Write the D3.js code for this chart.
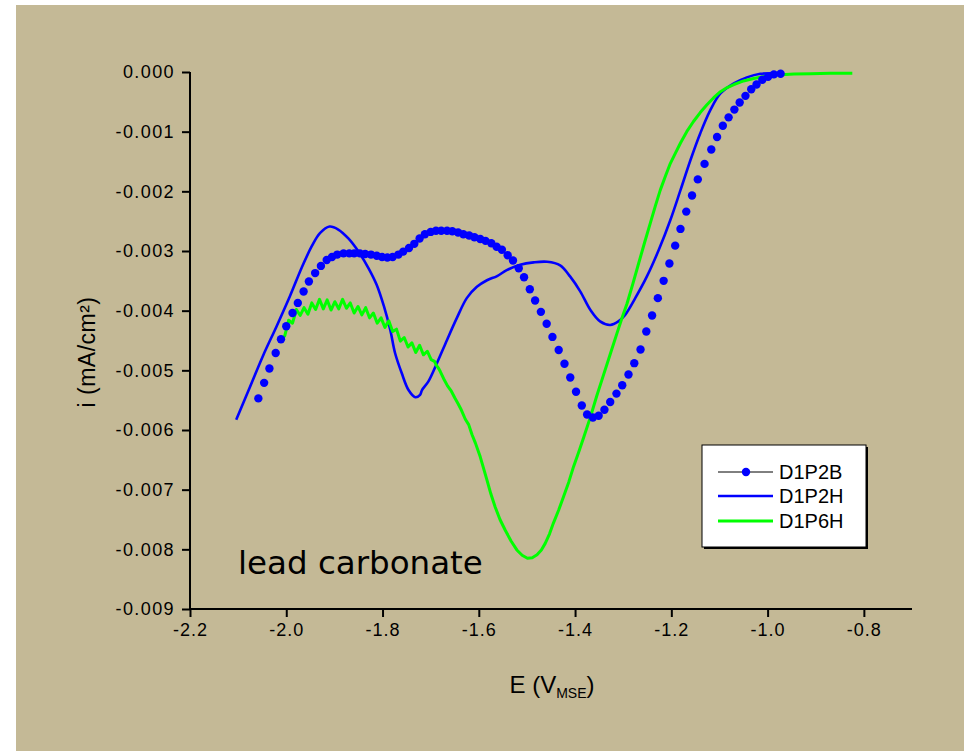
<!DOCTYPE html>
<html><head><meta charset="utf-8">
<script src="https://cdn.jsdelivr.net/npm/d3@7"></script>
<style>body{margin:0;background:#fff}svg{display:block}</style>
</head><body><svg id="c" width="964" height="751"></svg>
<script>
// ---- data (E in V vs MSE, i in mA/cm²) ----
const seriesNames = ["D1P2B", "D1P2H", "D1P6H"];
const xTicks = [-2.2, -2.0, -1.8, -1.6, -1.4, -1.2, -1.0, -0.8];
const yTicks = [0, -0.001, -0.002, -0.003, -0.004, -0.005, -0.006, -0.007, -0.008, -0.009];
const annotation = "lead carbonate";

const d1p2bE = [-2.058,-2.046,-2.035,-2.022,-2.011,-2.000,-1.987,-1.976,-1.964,-1.953,-1.940,-1.928,-1.916,-1.905,-1.894,-1.881,-1.869,-1.859,-1.847,-1.836,-1.824,-1.812,-1.801,-1.790,-1.779,-1.767,-1.757,-1.745,-1.734,-1.723,-1.712,-1.700,-1.689,-1.678,-1.666,-1.655,-1.643,-1.632,-1.620,-1.609,-1.597,-1.586,-1.574,-1.563,-1.552,-1.540,-1.529,-1.517,-1.506,-1.494,-1.483,-1.471,-1.459,-1.447,-1.434,-1.422,-1.410,-1.398,-1.386,-1.375,-1.363,-1.351,-1.339,-1.327,-1.314,-1.302,-1.289,-1.277,-1.264,-1.252,-1.240,-1.228,-1.216,-1.204,-1.192,-1.181,-1.169,-1.157,-1.145,-1.131,-1.117,-1.105,-1.093,-1.081,-1.069,-1.058,-1.046,-1.034,-1.023,-1.011,-0.999,-0.987,-0.973];
const d1p2bI = [-0.00547,-0.00521,-0.00497,-0.00471,-0.00448,-0.00426,-0.00404,-0.00387,-0.00368,-0.00351,-0.00337,-0.00325,-0.00315,-0.00310,-0.00306,-0.00304,-0.00304,-0.00304,-0.00304,-0.00305,-0.00306,-0.00308,-0.00310,-0.00311,-0.00310,-0.00306,-0.00301,-0.00295,-0.00288,-0.00279,-0.00272,-0.00268,-0.00266,-0.00266,-0.00266,-0.00267,-0.00269,-0.00272,-0.00274,-0.00277,-0.00280,-0.00283,-0.00287,-0.00293,-0.00298,-0.00307,-0.00316,-0.00329,-0.00344,-0.00364,-0.00383,-0.00402,-0.00422,-0.00444,-0.00466,-0.00489,-0.00512,-0.00536,-0.00559,-0.00574,-0.00579,-0.00576,-0.00566,-0.00553,-0.00539,-0.00525,-0.00507,-0.00488,-0.00465,-0.00435,-0.00408,-0.00379,-0.00350,-0.00321,-0.00291,-0.00263,-0.00234,-0.00207,-0.00180,-0.00154,-0.00130,-0.00109,-0.00090,-0.00076,-0.00063,-0.00051,-0.00040,-0.00029,-0.00021,-0.00013,-0.00008,-0.00004,-0.00003];

const d1p2hE = [-2.104,-2.075,-2.048,-2.020,-1.992,-1.968,-1.947,-1.930,-1.910,-1.892,-1.871,-1.850,-1.829,-1.812,-1.797,-1.784,-1.774,-1.760,-1.746,-1.732,-1.722,-1.718,-1.705,-1.687,-1.666,-1.646,-1.625,-1.604,-1.583,-1.562,-1.542,-1.514,-1.486,-1.458,-1.431,-1.410,-1.389,-1.368,-1.348,-1.327,-1.310,-1.296,-1.275,-1.251,-1.226,-1.202,-1.181,-1.160,-1.140,-1.119,-1.098,-1.070,-1.043,-1.015,-0.987,-0.975];
const d1p2hI = [-0.00583,-0.00527,-0.00475,-0.00426,-0.00375,-0.00328,-0.00292,-0.00270,-0.00259,-0.00264,-0.00279,-0.00301,-0.00329,-0.00357,-0.00393,-0.00432,-0.00471,-0.00505,-0.00533,-0.00545,-0.00541,-0.00533,-0.00519,-0.00488,-0.00449,-0.00413,-0.00379,-0.00360,-0.00349,-0.00342,-0.00332,-0.00323,-0.00319,-0.00318,-0.00324,-0.00343,-0.00368,-0.00399,-0.00418,-0.00424,-0.00418,-0.00407,-0.00379,-0.00343,-0.00298,-0.00248,-0.00198,-0.00147,-0.00103,-0.00064,-0.00036,-0.00019,-0.00009,-0.00003,-0.00002,-0.00002];

const d1p6hE = [-2.011,-2.003,-1.995,-1.987,-1.979,-1.971,-1.963,-1.955,-1.947,-1.939,-1.931,-1.923,-1.915,-1.907,-1.899,-1.891,-1.883,-1.875,-1.867,-1.859,-1.851,-1.843,-1.835,-1.827,-1.819,-1.811,-1.803,-1.795,-1.787,-1.779,-1.771,-1.763,-1.755,-1.747,-1.739,-1.731,-1.723,-1.715,-1.707,-1.699,-1.692,-1.688,-1.684,-1.680,-1.673,-1.665,-1.657,-1.650,-1.643,-1.636,-1.628,-1.621,-1.614,-1.607,-1.597,-1.583,-1.575,-1.566,-1.556,-1.545,-1.533,-1.521,-1.510,-1.499,-1.489,-1.479,-1.470,-1.462,-1.453,-1.445,-1.434,-1.424,-1.413,-1.403,-1.392,-1.382,-1.368,-1.355,-1.341,-1.327,-1.313,-1.302,-1.292,-1.280,-1.268,-1.256,-1.244,-1.233,-1.223,-1.212,-1.202,-1.191,-1.181,-1.168,-1.154,-1.140,-1.126,-1.112,-1.098,-1.084,-1.070,-1.050,-1.029,-1.005,-0.980,-0.945,-0.911,-0.870,-0.824];
const d1p6hI = [-0.00449,-0.00442,-0.00416,-0.00421,-0.00398,-0.00408,-0.00395,-0.00406,-0.00387,-0.00398,-0.00381,-0.00397,-0.00382,-0.00399,-0.00385,-0.00397,-0.00381,-0.00396,-0.00387,-0.00404,-0.00393,-0.00407,-0.00395,-0.00412,-0.00404,-0.00421,-0.00412,-0.00428,-0.00417,-0.00435,-0.00431,-0.00451,-0.00445,-0.00461,-0.00454,-0.00470,-0.00458,-0.00474,-0.00468,-0.00482,-0.00485,-0.00492,-0.00496,-0.00502,-0.00514,-0.00526,-0.00535,-0.00546,-0.00556,-0.00567,-0.00582,-0.00591,-0.00608,-0.00622,-0.00645,-0.00684,-0.00707,-0.00729,-0.00750,-0.00768,-0.00786,-0.00801,-0.00810,-0.00815,-0.00814,-0.00809,-0.00801,-0.00790,-0.00774,-0.00756,-0.00734,-0.00712,-0.00687,-0.00661,-0.00636,-0.00612,-0.00578,-0.00543,-0.00508,-0.00473,-0.00438,-0.00411,-0.00388,-0.00355,-0.00321,-0.00287,-0.00254,-0.00224,-0.00198,-0.00174,-0.00153,-0.00135,-0.00119,-0.00100,-0.00083,-0.00068,-0.00055,-0.00043,-0.00033,-0.00026,-0.00021,-0.00015,-0.00011,-0.00007,-0.00005,-0.000035,-0.00003,-0.00002,-0.00002];

// ---- drawing ----
const svg = d3.select("#c");
const fmtLocale = d3.formatLocale({decimal: ".", thousands: ",", grouping: [3], currency: ["", ""], minus: "-"});
const fx = fmtLocale.format(".1f"), fy = fmtLocale.format(".3f");

svg.append("rect").attr("x", 16).attr("y", 5).attr("width", 948).attr("height", 746).attr("fill", "#c4b996");

const x = d3.scaleLinear().domain([-2.2, -0.7]).range([190, 912]);
const y = d3.scaleLinear().domain([-0.009, 0]).range([609, 72]);

const font = "'Liberation Sans', Arial, sans-serif";

// x axis
const xMinor = d3.range(0, 8).map(i => -2.1 + i * 0.2);
const gx = svg.append("g").attr("transform", "translate(0,609)");
gx.call(d3.axisBottom(x).tickValues(xMinor).tickSize(5).tickFormat(""));
gx.call(d3.axisBottom(x).tickValues(xTicks).tickSize(8).tickPadding(6).tickFormat(fx));
gx.selectAll(".domain").attr("d", "M190,0H912").attr("stroke-width", 2);
gx.selectAll(".tick line").attr("stroke-width", 2);
gx.selectAll(".tick text").attr("font-family", font).attr("font-size", 18).attr("letter-spacing", 1).attr("fill", "#000");

// y axis
const yMinor = d3.range(0, 9).map(i => -0.0005 - i * 0.001);
const gy = svg.append("g").attr("transform", "translate(190,0)");
gy.call(d3.axisLeft(y).tickValues(yMinor).tickSize(5).tickFormat(""));
gy.call(d3.axisLeft(y).tickValues(yTicks).tickSize(8).tickPadding(7).tickFormat(fy));
gy.selectAll(".domain").attr("d", "M0,72V609").attr("stroke-width", 2);
gy.selectAll(".tick line").attr("stroke-width", 2);
gy.selectAll(".tick text").attr("font-family", font).attr("font-size", 18).attr("letter-spacing", 1.4).attr("fill", "#000");

// axis titles
const xt = svg.append("text").attr("x", 552).attr("y", 693).attr("text-anchor", "middle")
  .attr("font-family", font).attr("font-size", 24).attr("fill", "#000");
xt.append("tspan").text("E (V");
xt.append("tspan").attr("font-size", 14).attr("dy", 5).text("MSE");
xt.append("tspan").attr("dy", -5).text(")");

svg.append("text").attr("transform", "translate(95,352) rotate(-90)").attr("text-anchor", "middle")
  .attr("font-family", font).attr("font-size", 23).attr("letter-spacing", 0.5).attr("fill", "#000").text("i (mA/cm²)");

// series
const line = d3.line().x(d => x(d[0])).y(d => y(d[1]));
const p2h = d1p2hE.map((e, i) => [e, d1p2hI[i]]);
const p6h = d1p6hE.map((e, i) => [e, d1p6hI[i]]);
const p2b = d1p2bE.map((e, i) => [e, d1p2bI[i]]);

svg.append("path").datum(p2h).attr("d", line.curve(d3.curveCatmullRom)).attr("fill", "none")
  .attr("stroke", "#0000ff").attr("stroke-width", 2.6);
svg.append("path").datum(p6h).attr("d", line.curve(d3.curveLinear)).attr("fill", "none")
  .attr("stroke", "#00ff00").attr("stroke-width", 3).attr("stroke-linejoin", "round");
svg.append("g").selectAll("circle").data(p2b).join("circle")
  .attr("cx", d => x(d[0])).attr("cy", d => y(d[1])).attr("r", 4.2).attr("fill", "#0000ff");

// annotation
svg.append("text").attr("x", 238).attr("y", 574).attr("font-family", "'DejaVu Sans', sans-serif")
  .attr("font-size", 32.5).attr("fill", "#000").text(annotation);

// legend
const lg = svg.append("g");
lg.append("rect").attr("x", 704).attr("y", 447).attr("width", 164).attr("height", 102).attr("fill", "#000");
lg.append("rect").attr("x", 702).attr("y", 445).attr("width", 164).attr("height", 102).attr("fill", "#fff").attr("stroke", "#000").attr("stroke-width", 1);
const rows = [472, 496, 521];
const styles = [{c: "#000", w: 1, dot: true}, {c: "#0000ff", w: 2.6}, {c: "#00ff00", w: 3}];
seriesNames.forEach((n, i) => {
  lg.append("line").attr("x1", 718).attr("x2", 773).attr("y1", rows[i]).attr("y2", rows[i])
    .attr("stroke", styles[i].c).attr("stroke-width", styles[i].w);
  if (styles[i].dot) lg.append("circle").attr("cx", 746).attr("cy", rows[i]).attr("r", 4.2).attr("fill", "#0000ff");
  lg.append("text").attr("x", 779).attr("y", rows[i] + 7).attr("font-family", font).attr("font-size", 20)
    .attr("fill", "#000").text(n);
});
</script></body></html>
